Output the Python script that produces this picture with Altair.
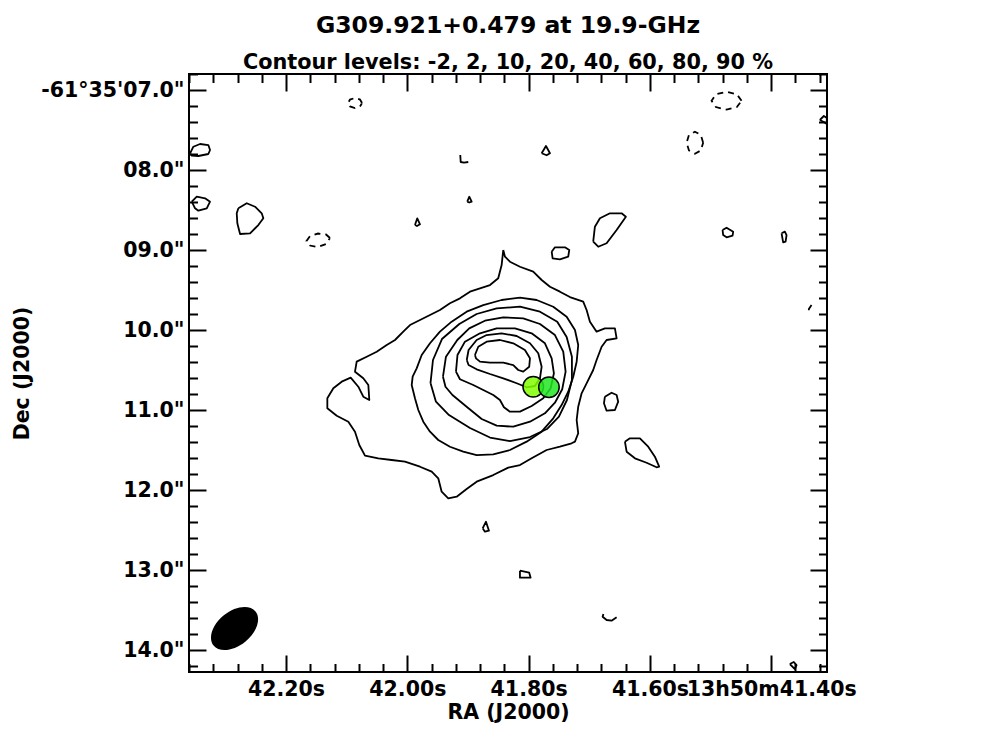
import json
import altair as alt
import pandas as pd

# ---------------- text ----------------
TITLE = "G309.921+0.479 at 19.9-GHz"
SUBTITLE = "Contour levels: -2, 2, 10, 20, 40, 60, 80, 90 %"
X_TITLE = "RA (J2000)"
Y_TITLE = "Dec (J2000)"

# ---------------- axis ticks / labels ----------------
X_MAJOR = [42.2, 42.0, 41.8, 41.6, 41.4]
X_LABELS = ["42.20s", "42.00s", "41.80s", "41.60s", "13h50m41.40s"]
Y_MAJOR = [7, 8, 9, 10, 11, 12, 13, 14]
Y_LABELS = ["-61°35'07.0\"", "08.0\"", "09.0\"", "10.0\"", "11.0\"", "12.0\"", "13.0\"", "14.0\""]
X_MINOR = [round(42.36 - 0.04 * i, 2) for i in range(27)]
X_MINOR = [v for v in X_MINOR if all(abs(v - m) > 1e-6 for m in X_MAJOR)]
Y_MINOR = [round(6.8 + 0.2 * i, 1) for i in range(38)]
Y_MINOR = [v for v in Y_MINOR if abs(v - round(v)) > 1e-6]

# ---------------- contours: (RA seconds of 13h50m, Dec arcsec of -61d35') ----------------
lvl2_main = [
    (41.8418, 9.000), (41.8445, 9.188), (41.8501, 9.354), (41.8637, 9.438), (41.8802, 9.479),
    (41.8967, 9.521), (41.9132, 9.604), (41.9297, 9.666), (41.9462, 9.750), (41.9626, 9.813),
    (41.9791, 9.875), (41.9956, 9.938), (42.0067, 10.021), (42.0203, 10.125), (42.0340, 10.188),
    (42.0505, 10.271), (42.0670, 10.334), (42.0835, 10.396), (42.0863, 10.521), (42.0726, 10.604),
    (42.0643, 10.688), (42.0627, 10.875), (42.0726, 10.834), (42.0808, 10.709), (42.0934, 10.596),
    (42.1082, 10.646), (42.1220, 10.729), (42.1319, 10.854), (42.1319, 10.979), (42.1164, 11.071),
    (42.0973, 11.146), (42.0863, 11.271), (42.0792, 11.438), (42.0698, 11.571), (42.0479, 11.604),
    (42.0258, 11.625), (42.0039, 11.646), (41.9791, 11.709), (41.9598, 11.771), (41.9490, 11.854),
    (41.9434, 12.021), (41.9325, 12.104), (41.9186, 12.084), (41.9022, 11.988), (41.8857, 11.896),
    (41.8583, 11.813), (41.8336, 11.721), (41.8143, 11.688), (41.7950, 11.604), (41.7703, 11.500),
    (41.7484, 11.459), (41.7291, 11.416), (41.7236, 11.396), (41.7182, 11.291), (41.7208, 11.125),
    (41.7182, 10.959), (41.7126, 10.791), (41.7044, 10.666), (41.6935, 10.500), (41.6879, 10.375),
    (41.6796, 10.209), (41.6714, 10.125), (41.6549, 10.104), (41.6577, 9.979), (41.6742, 9.979),
    (41.6879, 10.021), (41.6989, 9.896), (41.7044, 9.750), (41.7100, 9.646), (41.7319, 9.588),
    (41.7484, 9.521), (41.7648, 9.459), (41.7785, 9.375), (41.7924, 9.271), (41.8143, 9.209),
    (41.8308, 9.146), (41.8390, 9.084),
]
lvl10 = [
    (41.8143, 9.596), (41.7868, 9.625), (41.7594, 9.709), (41.7373, 9.834), (41.7236, 10.000),
    (41.7182, 10.188), (41.7208, 10.396), (41.7264, 10.584), (41.7347, 10.771), (41.7456, 10.938),
    (41.7594, 11.104), (41.7785, 11.271), (41.8033, 11.396), (41.8308, 11.500), (41.8583, 11.554),
    (41.8857, 11.563), (41.9078, 11.521), (41.9297, 11.459), (41.9490, 11.375), (41.9626, 11.271),
    (41.9737, 11.146), (41.9819, 11.000), (41.9874, 10.854), (41.9928, 10.688), (41.9912, 10.584),
    (41.9846, 10.479), (41.9763, 10.313), (41.9626, 10.166), (41.9462, 10.021), (41.9269, 9.896),
    (41.9022, 9.771), (41.8748, 9.688), (41.8445, 9.625),
]
lvl20 = [
    (41.9618, 10.663), (41.9577, 10.375), (41.9429, 10.113), (41.9143, 9.925), (41.8857, 9.800),
    (41.8527, 9.729), (41.8143, 9.709), (41.7813, 9.771), (41.7528, 9.896), (41.7373, 10.088),
    (41.7286, 10.334), (41.7286, 10.625), (41.7368, 10.875), (41.7500, 11.084), (41.7698, 11.238),
    (41.7978, 11.338), (41.8308, 11.388), (41.8637, 11.344), (41.8967, 11.225), (41.9313, 11.063),
    (41.9528, 10.896),
]
lvl40 = [
    (41.9412, 10.584), (41.9363, 10.334), (41.9176, 10.125), (41.8979, 9.979), (41.8720, 9.884),
    (41.8418, 9.841), (41.8089, 9.854), (41.7813, 9.925), (41.7566, 10.063), (41.7429, 10.271),
    (41.7390, 10.521), (41.7446, 10.741), (41.7566, 10.909), (41.7731, 11.041), (41.7978, 11.146),
    (41.8253, 11.209), (41.8527, 11.196), (41.8774, 11.113), (41.9012, 10.966), (41.9256, 10.813),
    (41.9371, 10.709),
]
lvl60 = [
    (41.9198, 10.521), (41.9173, 10.313), (41.9050, 10.146), (41.8802, 10.041), (41.8527, 9.979),
    (41.8225, 9.979), (41.7950, 10.041), (41.7731, 10.166), (41.7620, 10.354), (41.7583, 10.541),
    (41.7637, 10.729), (41.7759, 10.854), (41.7950, 10.950), (41.8143, 11.021), (41.8308, 11.021),
    (41.8407, 10.966), (41.8473, 10.875), (41.8583, 10.813), (41.8748, 10.750), (41.8913, 10.688),
    (41.9132, 10.616),
]
lvl80 = [
    (41.9020, 10.375), (41.8990, 10.250), (41.8857, 10.125), (41.8692, 10.063), (41.8445, 10.041),
    (41.8197, 10.075), (41.7978, 10.166), (41.7841, 10.291), (41.7785, 10.459), (41.7813, 10.604),
    (41.7896, 10.700), (41.8033, 10.716), (41.8197, 10.666), (41.8418, 10.604), (41.8637, 10.550),
    (41.8857, 10.491), (41.8990, 10.438),
]
lvl90 = [
    (41.8885, 10.313), (41.8830, 10.209), (41.8692, 10.146), (41.8473, 10.125), (41.8253, 10.166),
    (41.8061, 10.250), (41.7978, 10.354), (41.7990, 10.459), (41.8089, 10.521), (41.8171, 10.500),
    (41.8253, 10.438), (41.8418, 10.409), (41.8637, 10.409), (41.8802, 10.396), (41.8868, 10.354),
]

# small +2 % islands
isl_b = [(42.3582, 7.791), (42.3528, 7.709), (42.3418, 7.675), (42.3281, 7.688), (42.3253, 7.750),
         (42.3281, 7.800), (42.3446, 7.825), (42.3554, 7.821)]
isl_c = [(42.3554, 8.396), (42.3472, 8.334), (42.3335, 8.354), (42.3253, 8.396), (42.3307, 8.479),
         (42.3446, 8.509), (42.3500, 8.479)]
isl_d = [(42.2786, 8.479), (42.2648, 8.416), (42.2511, 8.459), (42.2401, 8.541), (42.2374, 8.604),
         (42.2457, 8.688), (42.2593, 8.791), (42.2758, 8.800), (42.2803, 8.666), (42.2813, 8.541)]
isl_f = [(41.9874, 8.688), (41.9836, 8.604), (41.9791, 8.679), (41.9841, 8.700)]
isl_g = [(41.9012, 8.396), (41.8979, 8.334), (41.8939, 8.396), (41.8979, 8.406)]
isl_h = [(41.9127, 7.813), (41.9120, 7.900), (41.9066, 7.909), (41.8995, 7.900)]          # open
isl_j = [(41.7785, 7.791), (41.7714, 7.700), (41.7648, 7.791), (41.7703, 7.816)]
isl_m = [(41.3198, 7.375), (41.3132, 7.325), (41.3083, 7.350), (41.3083, 7.425), (41.3132, 7.400)]
isl_n = [(41.6935, 8.896), (41.6907, 8.709), (41.6824, 8.604), (41.6659, 8.541), (41.6467, 8.541),
         (41.6396, 8.584), (41.6549, 8.750), (41.6714, 8.916), (41.6852, 8.959)]
isl_o = [(41.7620, 9.021), (41.7566, 8.966), (41.7401, 8.966), (41.7330, 9.000), (41.7347, 9.084),
         (41.7484, 9.116), (41.7604, 9.104)]
isl_p = [(41.4802, 8.750), (41.4736, 8.721), (41.4627, 8.771), (41.4637, 8.821), (41.4736, 8.841),
         (41.4792, 8.813)]
isl_q = [(41.3829, 8.791), (41.3775, 8.771), (41.3747, 8.813), (41.3763, 8.896), (41.3803, 8.904)]
isl_s = [(41.6742, 10.834), (41.6632, 10.784), (41.6549, 10.813), (41.6523, 10.896), (41.6577, 11.000),
         (41.6714, 11.009), (41.6758, 10.916)]
isl_t = [(41.6412, 11.396), (41.6330, 11.354), (41.6165, 11.354), (41.6028, 11.459), (41.5918, 11.584),
         (41.5847, 11.709), (41.5890, 11.716), (41.6055, 11.659), (41.6247, 11.604), (41.6384, 11.521)]
isl_w = [(41.8758, 12.479), (41.8703, 12.396), (41.8654, 12.509), (41.8720, 12.521)]
isl_x = [(41.8143, 13.009), (41.7990, 13.034), (41.7967, 13.096), (41.8143, 13.096)]
isl_y = [(41.6767, 13.550), (41.6780, 13.584), (41.6714, 13.625), (41.6632, 13.634), (41.6549, 13.591)]  # open
isl_z = [(41.3693, 14.175), (41.3627, 14.150), (41.3582, 14.188), (41.3610, 14.238)]

# -2 % (negative, dashed)
neg_a = [(42.0747, 7.163), (42.0780, 7.119), (42.0863, 7.100), (42.0945, 7.119), (42.0978, 7.163),
         (42.0945, 7.206), (42.0863, 7.225), (42.0780, 7.206)]
neg_e = [(42.1275, 8.850), (42.1341, 8.806), (42.1473, 8.794), (42.1604, 8.825), (42.1662, 8.888),
         (42.1604, 8.944), (42.1473, 8.963), (42.1341, 8.925)]
neg_k = [(41.4489, 7.134), (41.4566, 7.054), (41.4736, 7.021), (41.4912, 7.054), (41.4983, 7.134),
         (41.4912, 7.213), (41.4736, 7.246), (41.4566, 7.213)]
neg_l = [(41.5122, 7.659), (41.5161, 7.561), (41.5258, 7.521), (41.5356, 7.561), (41.5395, 7.659),
         (41.5356, 7.756), (41.5258, 7.796), (41.5161, 7.756)]
neg_u = [(41.3335, 9.688), (41.3379, 9.738), (41.3379, 9.791)]  # open

# sources (green circles) and restoring beam
SRC_NAME = ["src1", "src2"]
SRC_RA = [41.7924, 41.7665]
SRC_DEC = [10.709, 10.716]
SRC_COLOR = ["#80ff00", "#22e622"]
BEAM_RA = [42.2849]
BEAM_DEC = [13.731]

# ---------------- build tables ----------------
solid = [("lvl2_main", lvl2_main, True), ("lvl10", lvl10, True), ("lvl20", lvl20, True),
         ("lvl40", lvl40, True), ("lvl60", lvl60, True), ("lvl80", lvl80, True), ("lvl90", lvl90, True),
         ("b", isl_b, True), ("c", isl_c, True), ("d", isl_d, True), ("f", isl_f, True),
         ("g", isl_g, True), ("h", isl_h, False), ("j", isl_j, True), ("m", isl_m, True),
         ("n", isl_n, True), ("o", isl_o, True), ("p", isl_p, True), ("q", isl_q, True),
         ("s", isl_s, True), ("t", isl_t, True), ("w", isl_w, True), ("x", isl_x, True),
         ("y", isl_y, False), ("z", isl_z, True)]
dashed = [("na", neg_a, True), ("ne", neg_e, True), ("nk", neg_k, True), ("nl", neg_l, True),
          ("nu", neg_u, False)]


def to_rows(items):
    rows = []
    for name, pts, closed in items:
        seq = list(pts) + ([pts[0]] if closed else [])
        for i, (ra, dec) in enumerate(seq):
            rows.append({"cid": name, "ord": i, "ra": ra, "dec": dec})
    return pd.DataFrame(rows)


df_solid = to_rows(solid)
df_dashed = to_rows(dashed)
df_src = pd.DataFrame({"name": SRC_NAME, "ra": SRC_RA, "dec": SRC_DEC})
df_beam = pd.DataFrame({"ra": BEAM_RA, "dec": BEAM_DEC})

# ---------------- scales & axes ----------------
W, H = 638, 598
xscale = alt.Scale(domain=[41.308, 42.36], reverse=True, nice=False, zero=False)
yscale = alt.Scale(domain=[6.8, 14.275], reverse=True, nice=False, zero=False)

x_expr = f"{json.dumps(X_LABELS, ensure_ascii=False)}[indexof({json.dumps(X_MAJOR)}, datum.value)]"
y_expr = f"{json.dumps(Y_LABELS, ensure_ascii=False)}[indexof({json.dumps(Y_MAJOR)}, datum.value)]"

ax_x_main = alt.Axis(orient="bottom", values=X_MAJOR, labelExpr=x_expr, ticks=False, domain=False,
                     grid=False, labelPadding=7, labelOverlap=False, labelFlush=False, labelBound=False,
                     title=X_TITLE, titlePadding=3)
ax_y_main = alt.Axis(orient="left", values=Y_MAJOR, labelExpr=y_expr, ticks=False, domain=False,
                     grid=False, labelPadding=5, labelOverlap=False, labelFlush=False,
                     title=Y_TITLE, titlePadding=8)


def tick_axis(orient, offset, values, size):
    return alt.Axis(orient=orient, offset=offset, values=values, labels=False, domain=False,
                    grid=False, ticks=True, tickSize=size, tickWidth=2, tickColor="black",
                    title=None)


MAJ, MIN = 17, 8.5


def enc(ax_x, ax_y):
    return dict(x=alt.X("ra:Q", scale=xscale, axis=ax_x),
                y=alt.Y("dec:Q", scale=yscale, axis=ax_y))


solid_layer = alt.Chart(df_solid).mark_line(
    color="black", strokeWidth=1.8, strokeJoin="round", clip=True
).encode(detail="cid:N", order="ord:Q", **enc(ax_x_main, ax_y_main))

dashed_layer = alt.Chart(df_dashed).mark_line(
    color="black", strokeWidth=1.8, strokeDash=[6, 5], clip=True
).encode(detail="cid:N", order="ord:Q",
         **enc(tick_axis("top", -H, X_MAJOR, MAJ), tick_axis("right", -W, Y_MAJOR, MAJ)))

src_layer = alt.Chart(df_src).mark_circle(
    size=420, opacity=1, fillOpacity=0.85, stroke="black", strokeWidth=1.5
).encode(color=alt.Color("name:N", scale=alt.Scale(domain=SRC_NAME, range=SRC_COLOR), legend=None),
         **enc(tick_axis("bottom", -H, X_MAJOR, MAJ), tick_axis("left", -W, Y_MAJOR, MAJ)))

BEAM_SHAPE = "M -1 0 A 1 0.63 0 1 1 1 0 A 1 0.63 0 1 1 -1 0 Z"
beam_layer = alt.Chart(df_beam).mark_point(
    shape=BEAM_SHAPE, filled=True, color="black", opacity=1, size=2916, angle=321
).encode(**enc(tick_axis("top", -H, X_MINOR, MIN), tick_axis("right", -W, Y_MINOR, MIN)))

ghost_layer = alt.Chart(df_beam).mark_point(opacity=0).encode(
    **enc(tick_axis("bottom", -H, X_MINOR, MIN), tick_axis("left", -W, Y_MINOR, MIN)))

chart = alt.layer(solid_layer, dashed_layer, beam_layer, ghost_layer, src_layer).resolve_axis(
    x="independent", y="independent"
).properties(
    width=W, height=H,
    padding={"left": 181, "top": 66, "right": 162, "bottom": 67},
    autosize=alt.AutoSizeParams(type="none"),
    title=alt.TitleParams(TITLE, subtitle=SUBTITLE, font="DejaVu Sans", fontSize=23.5,
                          fontWeight="bold", color="black", subtitleFont="DejaVu Sans",
                          subtitleFontSize=20.8, subtitleFontWeight="bold", subtitleColor="black",
                          anchor="middle", frame="group", offset=0, subtitlePadding=16),
).configure_view(stroke="black", strokeWidth=2).configure_axis(
    labelFont="DejaVu Sans", labelFontSize=20.5, labelFontWeight="bold", labelColor="black",
    titleFont="DejaVu Sans", titleFontSize=20.5, titleFontWeight="bold", titleColor="black"
)

chart.save("out.html", embed_options={"renderer": "svg", "actions": False})
